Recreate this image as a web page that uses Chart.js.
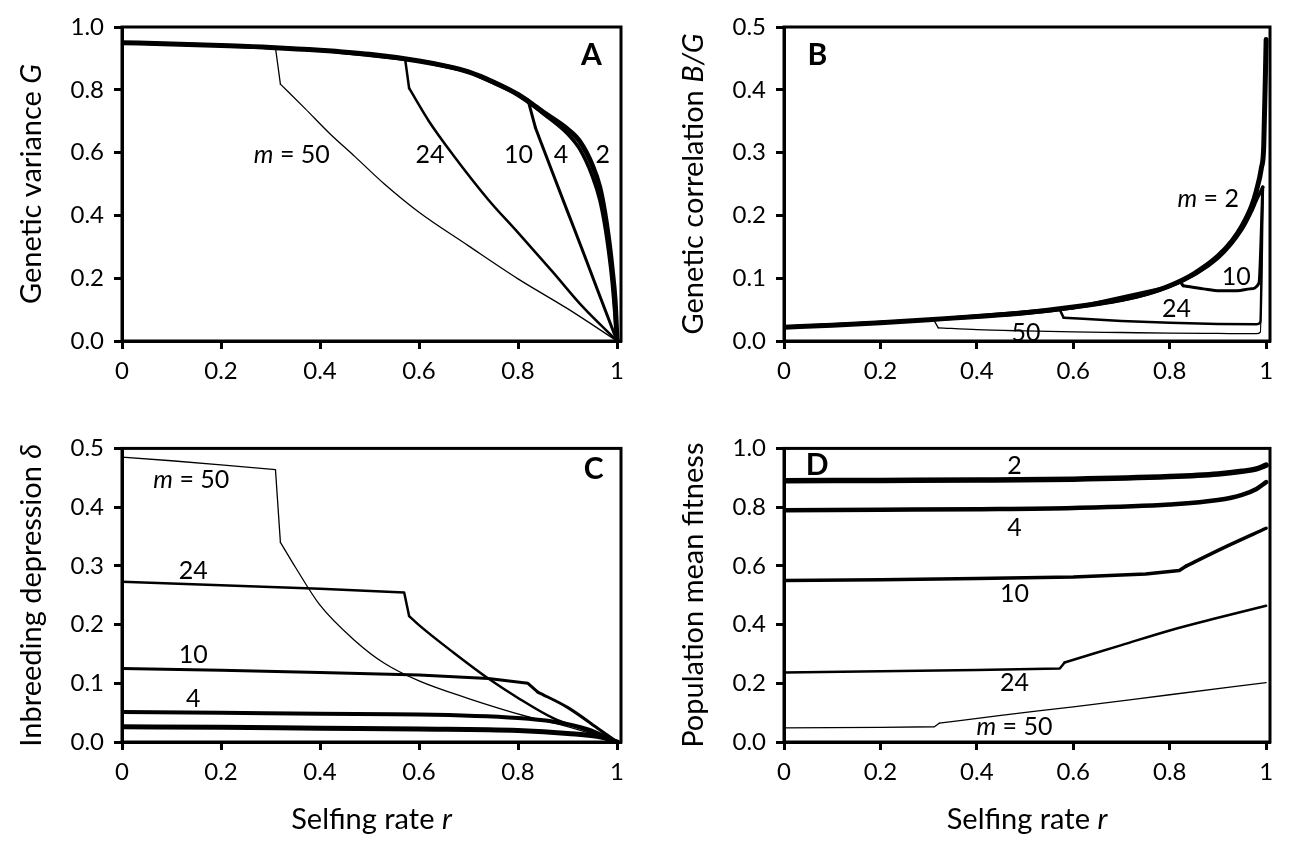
<!DOCTYPE html>
<html>
<head>
<meta charset="utf-8">
<script src="https://cdn.jsdelivr.net/npm/chart.js@4.4.1/dist/chart.umd.min.js"></script>
<style>
  html, body { margin: 0; padding: 0; background: #fff; }
  #wrap { position: relative; width: 1306px; height: 848px; overflow: hidden; }
  .panel { position: absolute; width: 653px; height: 424px; }
</style>
</head>
<body>
<div id="wrap">
  <div class="panel" style="left:0;top:0"><canvas id="chart-a" width="653" height="424"></canvas></div>
  <div class="panel" style="left:653px;top:0"><canvas id="chart-b" width="653" height="424"></canvas></div>
  <div class="panel" style="left:0;top:424px"><canvas id="chart-c" width="653" height="424"></canvas></div>
  <div class="panel" style="left:653px;top:424px"><canvas id="chart-d" width="653" height="424"></canvas></div>
</div>
<script>
// x ticks (selfing rate r), shared by all panels
const X_TICKS = [0, 0.2, 0.4, 0.6, 0.8, 1];

// Panel A - genetic variance G
const rA_m2  = [0, 0.1, 0.2, 0.3, 0.4, 0.5, 0.6, 0.65, 0.7, 0.75, 0.8, 0.85, 0.9, 0.925, 0.95, 0.965, 0.975, 0.985, 0.99, 0.996, 1];
const gA_m2  = [0.950, 0.946, 0.941, 0.935, 0.926, 0.913, 0.892, 0.877, 0.857, 0.825, 0.785, 0.730, 0.675, 0.635, 0.560, 0.490, 0.410, 0.300, 0.230, 0.130, 0];
const rA_m4  = [0, 0.2, 0.4, 0.6, 0.7, 0.8, 0.85, 0.9, 0.925, 0.95, 0.965, 0.975, 0.985, 0.99, 1];
const gA_m4  = [0.950, 0.941, 0.926, 0.892, 0.857, 0.784, 0.725, 0.660, 0.610, 0.525, 0.450, 0.370, 0.260, 0.190, 0];
const rA_m10 = [0, 0.2, 0.4, 0.6, 0.7, 0.8, 0.82, 0.835, 0.87, 0.9, 0.93, 0.96, 1];
const gA_m10 = [0.950, 0.941, 0.926, 0.892, 0.857, 0.785, 0.768, 0.680, 0.535, 0.412, 0.290, 0.165, 0];
const rA_m24 = [0, 0.2, 0.4, 0.5, 0.572, 0.58, 0.62, 0.67, 0.74, 0.8, 0.87, 0.93, 1];
const gA_m24 = [0.950, 0.941, 0.926, 0.913, 0.897, 0.805, 0.700, 0.590, 0.450, 0.345, 0.220, 0.110, 0];
const rA_m50 = [0, 0.1, 0.2, 0.31, 0.32, 0.37, 0.42, 0.47, 0.53, 0.6, 0.7, 0.8, 0.9, 1];
const gA_m50 = [0.950, 0.946, 0.941, 0.934, 0.818, 0.740, 0.660, 0.588, 0.500, 0.410, 0.303, 0.198, 0.103, 0];

// Panel B - genetic correlation B/G
const rB_m2  = [0, 0.1, 0.2, 0.3, 0.4, 0.5, 0.6, 0.7, 0.75, 0.8, 0.85, 0.9, 0.93, 0.95, 0.97, 0.98, 0.99, 0.995, 1];
const bB_m2  = [0.022, 0.025, 0.029, 0.034, 0.039, 0.045, 0.054, 0.066, 0.075, 0.088, 0.107, 0.135, 0.160, 0.183, 0.215, 0.240, 0.275, 0.310, 0.480];
const rB_m4  = [0, 0.3, 0.6, 0.8, 0.9, 0.95, 0.97, 0.98, 0.99, 0.993];
const bB_m4  = [0.022, 0.034, 0.053, 0.087, 0.132, 0.178, 0.207, 0.225, 0.240, 0.245];
const rB_m10 = [0, 0.3, 0.6, 0.8, 0.821, 0.828, 0.87, 0.904, 0.94, 0.967, 0.985, 0.993];
const bB_m10 = [0.022, 0.034, 0.053, 0.087, 0.095, 0.088, 0.083, 0.080, 0.080, 0.083, 0.092, 0.245];
const rB_m24 = [0, 0.3, 0.572, 0.58, 0.7, 0.8, 0.9, 0.98, 0.988, 0.993];
const bB_m24 = [0.022, 0.034, 0.050, 0.037, 0.032, 0.029, 0.027, 0.0265, 0.030, 0.245];
const rB_m50 = [0, 0.2, 0.31, 0.32, 0.4, 0.5, 0.6, 0.7, 0.8, 0.9, 0.98, 0.988, 0.993];
const bB_m50 = [0.022, 0.029, 0.0345, 0.021, 0.018, 0.016, 0.0145, 0.0135, 0.0125, 0.012, 0.0117, 0.014, 0.245];

// Panel C - inbreeding depression delta
const rC_m2  = [0, 0.2, 0.4, 0.6, 0.8, 0.9, 0.97, 1];
const dC_m2  = [0.026, 0.025, 0.0235, 0.0222, 0.0197, 0.0146, 0.008, 0];
const rC_m4  = [0, 0.2, 0.4, 0.6, 0.8, 0.87, 0.94, 1];
const dC_m4  = [0.051, 0.050, 0.048, 0.047, 0.041, 0.035, 0.022, 0];
const rC_m10 = [0, 0.2, 0.4, 0.6, 0.74, 0.82, 0.84, 0.9, 0.96, 1];
const dC_m10 = [0.125, 0.122, 0.1185, 0.114, 0.108, 0.100, 0.085, 0.059, 0.024, 0];
const rC_m24 = [0, 0.2, 0.4, 0.57, 0.58, 0.6, 0.67, 0.74, 0.8, 0.87, 0.94, 1];
const dC_m24 = [0.273, 0.267, 0.261, 0.2545, 0.2145, 0.199, 0.152, 0.108, 0.075, 0.041, 0.019, 0];
const rC_m50 = [0, 0.1, 0.2, 0.31, 0.32, 0.35, 0.4, 0.47, 0.53, 0.6, 0.7, 0.82, 0.9, 1];
const dC_m50 = [0.485, 0.479, 0.472, 0.464, 0.340, 0.298, 0.233, 0.173, 0.134, 0.104, 0.074, 0.043, 0.026, 0];

// Panel D - population mean fitness
const rD_m2  = [0, 0.2, 0.4, 0.6, 0.8, 0.9, 0.95, 0.98, 1];
const wD_m2  = [0.890, 0.891, 0.892, 0.895, 0.904, 0.913, 0.922, 0.930, 0.943];
const rD_m4  = [0, 0.2, 0.4, 0.6, 0.8, 0.9, 0.95, 0.98, 1];
const wD_m4  = [0.789, 0.791, 0.793, 0.797, 0.809, 0.824, 0.842, 0.862, 0.885];
const rD_m10 = [0, 0.2, 0.4, 0.6, 0.75, 0.82, 0.835, 0.92, 1];
const wD_m10 = [0.550, 0.553, 0.557, 0.562, 0.572, 0.584, 0.600, 0.668, 0.728];
const rD_m24 = [0, 0.2, 0.4, 0.572, 0.582, 0.7, 0.8, 0.9, 1];
const wD_m24 = [0.237, 0.241, 0.245, 0.250, 0.271, 0.330, 0.380, 0.423, 0.464];
const rD_m50 = [0, 0.1, 0.2, 0.312, 0.322, 0.45, 0.6, 0.8, 1];
const wD_m50 = [0.048, 0.049, 0.050, 0.052, 0.064, 0.091, 0.1195, 0.161, 0.202];

const FONT = 'Lato, "Open Sans", sans-serif';

function pts(xs, ys) {
    return xs.map((x, i) => ({ x: x, y: ys[i] }));
}

// draw text made of plain / italic / bold parts, centred on (x, y)
function drawParts(ctx, parts, x, y, size, rotate) {
    ctx.save();
    ctx.translate(x, y);
    if (rotate) ctx.rotate(-Math.PI / 2);
    ctx.textBaseline = 'middle';
    ctx.textAlign = 'left';
    ctx.fillStyle = '#000';
    const fontOf = p => (p.i ? 'italic ' : '') + (p.b ? 'bold ' : '') + size + 'px ' + FONT;
    let total = 0;
    parts.forEach(p => { ctx.font = fontOf(p); total += ctx.measureText(p.t).width; });
    let cx = -total / 2;
    parts.forEach(p => {
        ctx.font = fontOf(p);
        ctx.fillText(p.t, cx, 0);
        cx += ctx.measureText(p.t).width;
    });
    ctx.restore();
}

const panelDecor = {
    id: 'panelDecor',
    afterDatasetsDraw(chart, args, opts) {
        const ctx = chart.ctx;
        const a = chart.chartArea;
        // frame round the plot area
        ctx.save();
        ctx.strokeStyle = '#000';
        ctx.lineWidth = 3;
        ctx.strokeRect(a.left, a.top, a.right - a.left, a.bottom - a.top);
        ctx.restore();
        // in-plot labels
        (opts.labels || []).forEach(l => {
            const px = chart.scales.x.getPixelForValue(l.x);
            const py = chart.scales.y.getPixelForValue(l.y);
            drawParts(ctx, l.parts, px, py, l.size || 25, false);
        });
        // axis titles
        if (opts.yTitle) {
            drawParts(ctx, opts.yTitle, a.left - 90, (a.top + a.bottom) / 2, 29, true);
        }
        if (opts.xTitle) {
            drawParts(ctx, opts.xTitle, (a.left + a.right) / 2, a.bottom + 78, 29, false);
        }
    }
};

function lineSet(data, w, smooth) {
    return {
        data: data,
        borderColor: '#000',
        borderWidth: w,
        pointRadius: 0,
        fill: false,
        tension: 0,
        cubicInterpolationMode: smooth ? 'monotone' : 'default',
        borderJoinStyle: 'round',
        borderCapStyle: 'round'
    };
}

// a curve is drawn straight up to its kink (index k), smooth after it
function buildChart(canvasId, p) {
    const datasets = [];
    p.series.forEach(s => {
        if (s.k > 0) {
            datasets.push(lineSet(pts(s.r.slice(0, s.k + 1), s.v.slice(0, s.k + 1)), s.w, false));
            datasets.push(lineSet(pts(s.r.slice(s.k), s.v.slice(s.k)), s.w, true));
        } else {
            datasets.push(lineSet(pts(s.r, s.v), s.w, true));
        }
    });
    return new Chart(document.getElementById(canvasId), {
        type: 'line',
        data: { datasets: datasets },
        options: {
            responsive: false,
            animation: false,
            devicePixelRatio: 1,
            layout: { padding: { left: 0, right: p.padRight, top: p.padTop, bottom: 0 } },
            plugins: {
                legend: { display: false },
                tooltip: { enabled: false },
                panelDecor: { labels: p.labels, yTitle: p.yTitle, xTitle: p.xTitle }
            },
            scales: {
                x: {
                    type: 'linear',
                    min: 0,
                    max: 1.008,
                    afterBuildTicks: ax => { ax.ticks = X_TICKS.map(v => ({ value: v })); },
                    afterFit: ax => { ax.height = p.xHeight; },
                    ticks: {
                        color: '#000',
                        font: { family: FONT, size: 24 },
                        padding: 8,
                        maxRotation: 0,
                        autoSkip: false,
                        callback: v => String(v)
                    },
                    grid: { drawOnChartArea: false, tickLength: 8, tickWidth: 3, tickColor: '#000' },
                    border: { display: true, width: 3, color: '#000' }
                },
                y: {
                    type: 'linear',
                    min: 0,
                    max: p.yMax,
                    afterBuildTicks: ax => { ax.ticks = p.yTicks.map(v => ({ value: v })); },
                    afterFit: ax => { ax.width = p.yWidth; },
                    ticks: {
                        color: '#000',
                        font: { family: FONT, size: 24 },
                        padding: 10,
                        autoSkip: false,
                        callback: v => v.toFixed(1)
                    },
                    grid: { drawOnChartArea: false, tickLength: 8, tickWidth: 3, tickColor: '#000' },
                    border: { display: true, width: 3, color: '#000' }
                }
            }
        },
        plugins: [panelDecor]
    });
}

const M = s => [{ t: 'm', i: true }, { t: ' = ' + s }];
const T = s => [{ t: s }];

buildChart('chart-a', {
    padTop: 27, padRight: 32, xHeight: 83, yWidth: 122,
    yMax: 1.0, yTicks: [0, 0.2, 0.4, 0.6, 0.8, 1.0],
    series: [
        { r: rA_m2, v: gA_m2, w: 5, k: 0 },
        { r: rA_m4, v: gA_m4, w: 3.5, k: 0 },
        { r: rA_m10, v: gA_m10, w: 3, k: 7 },
        { r: rA_m24, v: gA_m24, w: 2.5, k: 5 },
        { r: rA_m50, v: gA_m50, w: 1.3, k: 4 }
    ],
    labels: [
        { x: 0.343, y: 0.591, parts: M('50') },
        { x: 0.622, y: 0.591, parts: T('24') },
        { x: 0.801, y: 0.591, parts: T('10') },
        { x: 0.887, y: 0.591, parts: T('4') },
        { x: 0.971, y: 0.591, parts: T('2') },
        { x: 0.948, y: 0.91, parts: [{ t: 'A', b: true }], size: 30 }
    ],
    yTitle: [{ t: 'Genetic variance ' }, { t: 'G', i: true }]
});

buildChart('chart-b', {
    padTop: 27, padRight: 36, xHeight: 83, yWidth: 131,
    yMax: 0.5, yTicks: [0, 0.1, 0.2, 0.3, 0.4, 0.5],
    series: [
        { r: rB_m2, v: bB_m2, w: 5, k: 0 },
        { r: rB_m4, v: bB_m4, w: 3.5, k: 0 },
        { r: rB_m10, v: bB_m10, w: 3, k: 5 },
        { r: rB_m24, v: bB_m24, w: 2.5, k: 3 },
        { r: rB_m50, v: bB_m50, w: 1.3, k: 3 }
    ],
    labels: [
        { x: 0.88, y: 0.226, parts: M('2') },
        { x: 0.938, y: 0.102, parts: T('10') },
        { x: 0.814, y: 0.051, parts: T('24') },
        { x: 0.502, y: 0.013, parts: T('50') },
        { x: 0.069, y: 0.455, parts: [{ t: 'B', b: true }], size: 30 }
    ],
    yTitle: [{ t: 'Genetic correlation ' }, { t: 'B/G', i: true }]
});

buildChart('chart-c', {
    padTop: 7, padRight: 32, xHeight: 106, yWidth: 122,
    yMax: 0.5, yTicks: [0, 0.1, 0.2, 0.3, 0.4, 0.5],
    series: [
        { r: rC_m2, v: dC_m2, w: 5, k: 0 },
        { r: rC_m4, v: dC_m4, w: 4, k: 0 },
        { r: rC_m10, v: dC_m10, w: 3, k: 6 },
        { r: rC_m24, v: dC_m24, w: 2.5, k: 4 },
        { r: rC_m50, v: dC_m50, w: 1.3, k: 4 }
    ],
    labels: [
        { x: 0.14, y: 0.447, parts: M('50') },
        { x: 0.144, y: 0.292, parts: T('24') },
        { x: 0.144, y: 0.149, parts: T('10') },
        { x: 0.144, y: 0.073, parts: T('4') },
        { x: 0.953, y: 0.465, parts: [{ t: 'C', b: true }], size: 30 }
    ],
    yTitle: [{ t: 'Inbreeding depression ' }, { t: 'δ', i: true }],
    xTitle: [{ t: 'Selfing rate ' }, { t: 'r', i: true }]
});

buildChart('chart-d', {
    padTop: 7, padRight: 36, xHeight: 106, yWidth: 131,
    yMax: 1.0, yTicks: [0, 0.2, 0.4, 0.6, 0.8, 1.0],
    series: [
        { r: rD_m2, v: wD_m2, w: 5.5, k: 0 },
        { r: rD_m4, v: wD_m4, w: 4.5, k: 0 },
        { r: rD_m10, v: wD_m10, w: 3.5, k: 6 },
        { r: rD_m24, v: wD_m24, w: 2.5, k: 4 },
        { r: rD_m50, v: wD_m50, w: 1.3, k: 4 }
    ],
    labels: [
        { x: 0.478, y: 0.941, parts: T('2') },
        { x: 0.478, y: 0.728, parts: T('4') },
        { x: 0.478, y: 0.504, parts: T('10') },
        { x: 0.478, y: 0.20, parts: T('24') },
        { x: 0.478, y: 0.05, parts: M('50') },
        { x: 0.069, y: 0.941, parts: [{ t: 'D', b: true }], size: 30 }
    ],
    yTitle: [{ t: 'Population mean fitness' }],
    xTitle: [{ t: 'Selfing rate ' }, { t: 'r', i: true }]
});
</script>
</body>
</html>
